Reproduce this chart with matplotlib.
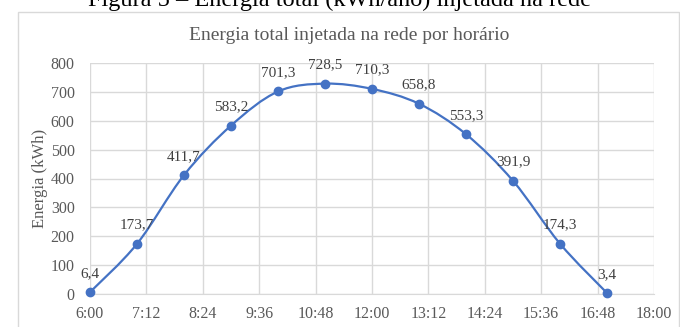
import matplotlib.pyplot as plt
import numpy as np
from matplotlib.path import Path
from matplotlib.patches import PathPatch, Rectangle

plt.rcParams.update({"font.family": "Liberation Serif", "figure.dpi": 100})

hours = [6, 7, 8, 9, 10, 11, 12, 13, 14, 15, 16, 17]
energia = [6.4, 173.7, 411.7, 583.2, 701.3, 728.5, 710.3, 658.8, 553.3, 391.9, 174.3, 3.4]
xticks = [6.0, 7.2, 8.4, 9.6, 10.8, 12.0, 13.2, 14.4, 15.6, 16.8, 18.0]
xlabels = ["6:00", "7:12", "8:24", "9:36", "10:48", "12:00", "13:12", "14:24", "15:36", "16:48", "18:00"]

BLUE = "#4472C4"
GRAY = "#595959"
GRID = "#d9d9d9"

fig = plt.figure(figsize=(6.8, 3.27))
ax = fig.add_axes([90/680, 33/327, 564/680, 231/327])

# smoothed line (Catmull-Rom as cubic Bezier segments, like Excel's smoothed line)
x = np.array(hours, float); y = np.array(energia, float)
verts = [(x[0], y[0])]; codes = [Path.MOVETO]
for i in range(len(x) - 1):
    p0 = (x[max(i-1, 0)], y[max(i-1, 0)]); p1 = (x[i], y[i])
    p2 = (x[i+1], y[i+1]); p3 = (x[min(i+2, len(x)-1)], y[min(i+2, len(x)-1)])
    c1 = (p1[0] + (p2[0]-p0[0])/6, p1[1] + (p2[1]-p0[1])/6)
    c2 = (p2[0] - (p3[0]-p1[0])/6, p2[1] - (p3[1]-p1[1])/6)
    verts += [c1, c2, p2]; codes += [Path.CURVE4]*3
ax.add_patch(PathPatch(Path(verts, codes), fill=False, ec=BLUE, lw=1.6, zorder=3))
ax.plot(hours, energia, "o", ms=6, color=BLUE, zorder=4, clip_on=False)

for h, e in zip(hours, energia):
    ax.annotate(f"{e:.1f}".replace(".", ","), (h, e), xytext=(0, 13.5), textcoords="offset points",
                ha="center", va="center", fontsize=11, color="#404040")

ax.set_xlim(6, 18); ax.set_ylim(0, 800)
ax.set_xticks(xticks); ax.set_xticklabels(xlabels)
ax.set_yticks(range(0, 801, 100))
ax.grid(True, color=GRID, lw=1)
ax.set_axisbelow(True)
for s in ax.spines.values():
    s.set_visible(False)
ax.spines["bottom"].set_visible(True); ax.spines["bottom"].set_color(GRID)
ax.tick_params(length=0, labelsize=11.5, colors=GRAY)
ax.tick_params(axis="y", pad=11)
ax.tick_params(axis="x", pad=9)
ax.set_ylabel("Energia (kWh)", fontsize=12, color=GRAY, labelpad=2)

fig.text(349/680, 1 - 36/327, "Energia total injetada na rede por horário",
         ha="center", va="center", fontsize=14, color=GRAY)

fig.add_artist(Rectangle((18/680, -0.05), 661/680, (327-12)/327 + 0.05, transform=fig.transFigure,
                         fill=False, ec=GRID, lw=1))
fig.text(0.5, 1 - 6/327, "Figura 5 – Energia total (kWh/ano) injetada na rede",
         ha="center", va="baseline", fontsize=17.5, color="black")

fig.savefig("out.png")
